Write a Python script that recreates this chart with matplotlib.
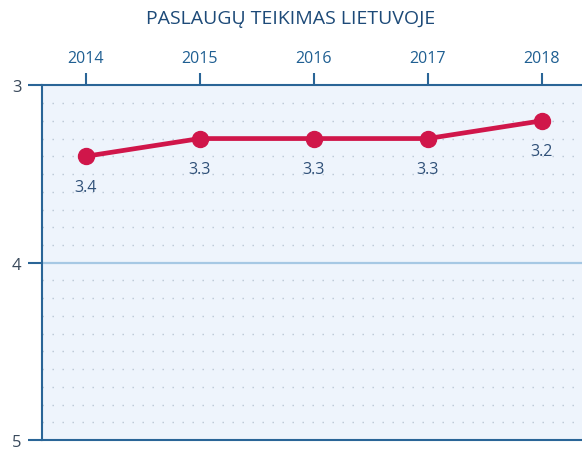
import matplotlib
matplotlib.use("Agg")
import matplotlib.pyplot as plt
import numpy as np

years = [2014, 2015, 2016, 2017, 2018]
values = [3.4, 3.3, 3.3, 3.3, 3.2]
labels = ["3.4", "3.3", "3.3", "3.3", "3.2"]
y_ticks = [3, 4, 5]
title = "PASLAUGŲ TEIKIMAS LIETUVOJE"

plt.rcParams['font.family'] = ['Open Sans', 'DejaVu Sans']

fig = plt.figure(figsize=(5.82, 4.52), dpi=100)
ax = fig.add_axes([0.073, 0.024, 0.94, 0.785])
ax.set_facecolor('#eef4fc')

ax.set_xlim(2013.62, 2018.42)
ax.set_ylim(5, 3)

# dotted minor grid
for yv in np.arange(3.1, 5.0, 0.1):
    if abs(yv - 4.0) < 1e-6:
        continue
    ax.axhline(yv, color='#b9c6d4', lw=1.0, ls=(0, (1, 6.2)), zorder=1)
ax.axhline(4, color='#a6c8e4', lw=1.6, zorder=2)

line_color = '#d0164a'
ax.plot(years, values, color=line_color, lw=3.4, marker='o', ms=11.5,
        solid_capstyle='round', zorder=4)
for x, v, t in zip(years, values, labels):
    ax.annotate(t, (x, v), xytext=(0, -22), textcoords='offset points',
                ha='center', va='center', fontsize=11.5, color='#2f5078', zorder=5)

spine_color = '#2a6597'
for s in ['left', 'top', 'bottom']:
    ax.spines[s].set_color(spine_color)
    ax.spines[s].set_linewidth(1.5)
ax.spines['right'].set_visible(False)

ax.xaxis.tick_top()
ax.set_xticks(years)
ax.set_xticklabels([str(y) for y in years])
ax.tick_params(axis='x', which='major', direction='out', length=9, width=1.5,
               color=spine_color, labelcolor='#1f5f92', labelsize=11.5, pad=5)
ax.set_yticks(y_ticks)
ax.set_yticklabels([str(y) for y in y_ticks])
ax.tick_params(axis='y', which='major', direction='out', length=10, width=1.5,
               color=spine_color, labelcolor='#3a4a5c', labelsize=12, pad=5)
ax.tick_params(axis='y', which='minor', length=0)

fig.text(0.5, 0.958, title, ha='center', va='center', fontsize=14, color='#1d4a78')

fig.savefig('out.png', dpi=100)
